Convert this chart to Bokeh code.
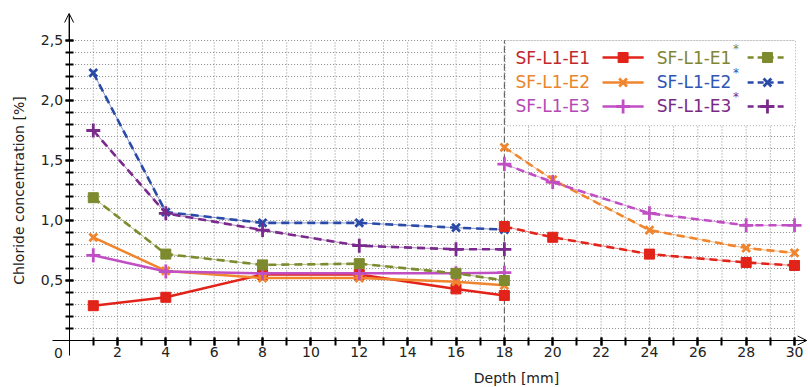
import numpy as np
from bokeh.plotting import figure
from bokeh.models import FixedTicker, Range1d, Arrow, OpenHead
from bokeh.core.properties import value
from bokeh.embed import file_html
from bokeh.resources import INLINE

# ---------------- data ----------------
depth_a = [1, 4, 8, 12, 16, 18]
depth_b = [18, 20, 24, 28, 30]

e1 = [0.29, 0.36, 0.55, 0.55, 0.43, 0.375]
e2 = [0.86, 0.58, 0.52, 0.52, 0.49, 0.46]
e3 = [0.71, 0.575, 0.56, 0.56, 0.56, 0.565]
e1s = [1.19, 0.72, 0.63, 0.64, 0.56, 0.50]
e2s = [2.23, 1.07, 0.98, 0.98, 0.94, 0.925]
e3s = [1.75, 1.06, 0.92, 0.79, 0.76, 0.76]

e1_b = [0.95, 0.86, 0.72, 0.65, 0.625]
e2_b = [1.61, 1.34, 0.92, 0.77, 0.73]
e3_b = [1.47, 1.32, 1.06, 0.96, 0.96]

series_names = ["SF-L1-E1", "SF-L1-E2", "SF-L1-E3", "SF-L1-E1", "SF-L1-E2", "SF-L1-E3"]
x_tick_values = list(range(2, 31, 2))
y_tick_values = [0.5, 1.0, 1.5, 2.0, 2.5]
y_tick_labels = ["0,5", "1,0", "1,5", "2,0", "2,5"]
x_label = "Depth [mm]"
y_label = "Chloride concentration [%]"

# ---------------- styles ----------------
FONT = "DejaVu Sans"
line_colors = ["#e2231a", "#f0852d", "#c14fc4", "#7d8a2e", "#2a4aa8", "#7a2a8c"]
text_colors = ["#c0282d", "#e8862e", "#b548b5", "#7f8530", "#2f55b5", "#7a2a85"]
markers = ["square", "x", "cross", "square", "x", "cross"]
marker_sizes = [10, 11, 14, 10, 11, 14]
dashed = [False, False, False, True, True, True]
DASH = "8 5"

p = figure(width=810, height=387,
           x_range=Range1d(-2.837, 30.66), y_range=Range1d(-0.3917, 2.8333),
           output_backend="svg", toolbar_location=None,
           min_border=0, min_border_left=0, min_border_right=0,
           min_border_top=0, min_border_bottom=0)
p.outline_line_color = None
p.background_fill_color = "white"
p.border_fill_color = "white"
p.xgrid.visible = False
p.ygrid.visible = False

# ---------------- grid (dotted) ----------------
gx = np.arange(1, 31)
gy = np.round(np.arange(1, 26) * 0.1, 2)
p.segment(x0=gx, y0=np.zeros(len(gx)), x1=gx, y1=np.full(len(gx), 2.5),
          line_color="#8a8a8a", line_width=1, line_dash="1 2")
p.segment(x0=np.zeros(len(gy)), y0=gy, x1=np.full(len(gy), 30.0), y1=gy,
          line_color="#8a8a8a", line_width=1, line_dash="1 2")

# ---------------- axes ----------------
minor_y = [float(v) for v in np.round(np.arange(1, 26) * 0.1, 2)]
p.yaxis.fixed_location = 0
p.yaxis.bounds = (-0.125, 2.72)
p.yaxis.ticker = FixedTicker(ticks=y_tick_values, minor_ticks=minor_y)
p.yaxis.major_label_overrides = {v: l for v, l in zip(y_tick_values, y_tick_labels)}
p.xaxis.fixed_location = 0
p.xaxis.bounds = (-0.7, 30.5)
p.xaxis.ticker = FixedTicker(ticks=x_tick_values, minor_ticks=list(range(1, 31)))
for ax in (p.xaxis, p.yaxis):
    ax.axis_line_color = "black"
    ax.axis_line_width = 1
    ax.major_tick_line_color = "black"
    ax.minor_tick_line_color = "black"
    ax.major_tick_line_width = 2
    ax.minor_tick_line_width = 2
    ax.major_label_text_font = FONT
    ax.major_label_text_font_size = "14px"
    ax.major_label_text_color = "#222222"
p.yaxis.major_tick_in = 4
p.yaxis.major_tick_out = 4
p.yaxis.minor_tick_in = 4
p.yaxis.minor_tick_out = 4
p.yaxis.major_label_standoff = 2
p.xaxis.major_tick_in = 3
p.xaxis.major_tick_out = 5
p.xaxis.minor_tick_in = 3
p.xaxis.minor_tick_out = 5
p.xaxis.major_label_standoff = 2

p.add_layout(Arrow(end=OpenHead(size=9, line_width=1, line_color="black"),
                   x_start=0, y_start=2.5, x_end=0, y_end=2.725,
                   line_color="black", line_width=1))
p.add_layout(Arrow(end=OpenHead(size=9, line_width=1, line_color="black"),
                   x_start=30, y_start=0, x_end=30.5, y_end=0,
                   line_color="black", line_width=1))

# origin label and axis titles
p.text(x=[-0.44], y=[-0.108], text=["0"], text_font=value(FONT), text_font_size="14px",
       text_color="#222222", text_align="center", text_baseline="middle")
p.text(x=[18.5], y=[-0.313], text=[x_label], text_font=value(FONT), text_font_size="14px",
       text_color="#222222", text_align="center", text_baseline="middle")
p.text(x=[-2.09], y=[1.25], text=[y_label], text_font=value(FONT), text_font_size="14px",
       text_color="#222222", text_align="center", text_baseline="middle", angle=np.pi / 2)

# ---------------- legend box (below data) ----------------
p.quad(left=[18.04], right=[30.04], bottom=[1.79], top=[2.5],
       fill_color="white", line_color="#aaaaaa", line_dash="1 2", line_width=1)

# vertical dashed line at 18
p.segment(x0=[18], y0=[0], x1=[18], y1=[2.5], line_color="#555555", line_width=1, line_dash="6 3")

# ---------------- series ----------------
def draw_markers(xs, ys, i):
    c = line_colors[i]
    if markers[i] == "square":
        p.scatter(xs, ys, marker="square", size=marker_sizes[i], fill_color=c, line_color=c)
    else:
        p.scatter(xs, ys, marker=markers[i], size=marker_sizes[i], line_color=c, line_width=2.8)

series_a = [e1, e2, e3, e1s, e2s, e3s]
for i, ys in enumerate(series_a):
    c = line_colors[i]
    if dashed[i]:
        p.line(depth_a, ys, line_color=c, line_width=1, alpha=0.6)
        p.line(depth_a, ys, line_color=c, line_width=2.6, line_dash=DASH)
    else:
        p.line(depth_a, ys, line_color=c, line_width=2.5)
    draw_markers(depth_a, ys, i)

series_b = [e1_b, e2_b, e3_b]
for i, ys in enumerate(series_b):
    c = line_colors[i]
    p.line(depth_b, ys, line_color=c, line_width=1, alpha=0.6)
    p.line(depth_b, ys, line_color=c, line_width=2.6, line_dash=DASH)
    draw_markers(depth_b, ys, i)

# ---------------- legend entries ----------------
row_y = [2.358, 2.15, 1.95]
col_text_x = [18.46, 24.3]
col_line_x = [(22.06, 23.76), (28.06, 29.7)]
for i, name in enumerate(series_names):
    col = i // 3
    row = i % 3
    y = row_y[row]
    c = line_colors[i]
    p.text(x=[col_text_x[col]], y=[y], text=[name], text_font=value(FONT), text_font_size="17px",
           text_color=text_colors[i], text_align="left", text_baseline="middle")
    if col == 1:
        p.text(x=[27.45], y=[y + 0.075], text=["*"], text_font=value(FONT), text_font_size="12px",
               text_color=text_colors[i], text_align="left", text_baseline="middle")
    x0, x1 = col_line_x[col]
    if dashed[i]:
        p.line([x0, x1], [y, y], line_color=c, line_width=2.6, line_dash="6 4")
    else:
        p.line([x0, x1], [y, y], line_color=c, line_width=2.6)
    draw_markers([(x0 + x1) / 2], [y], i)

open("out.html", "w").write(file_html(p, INLINE))
